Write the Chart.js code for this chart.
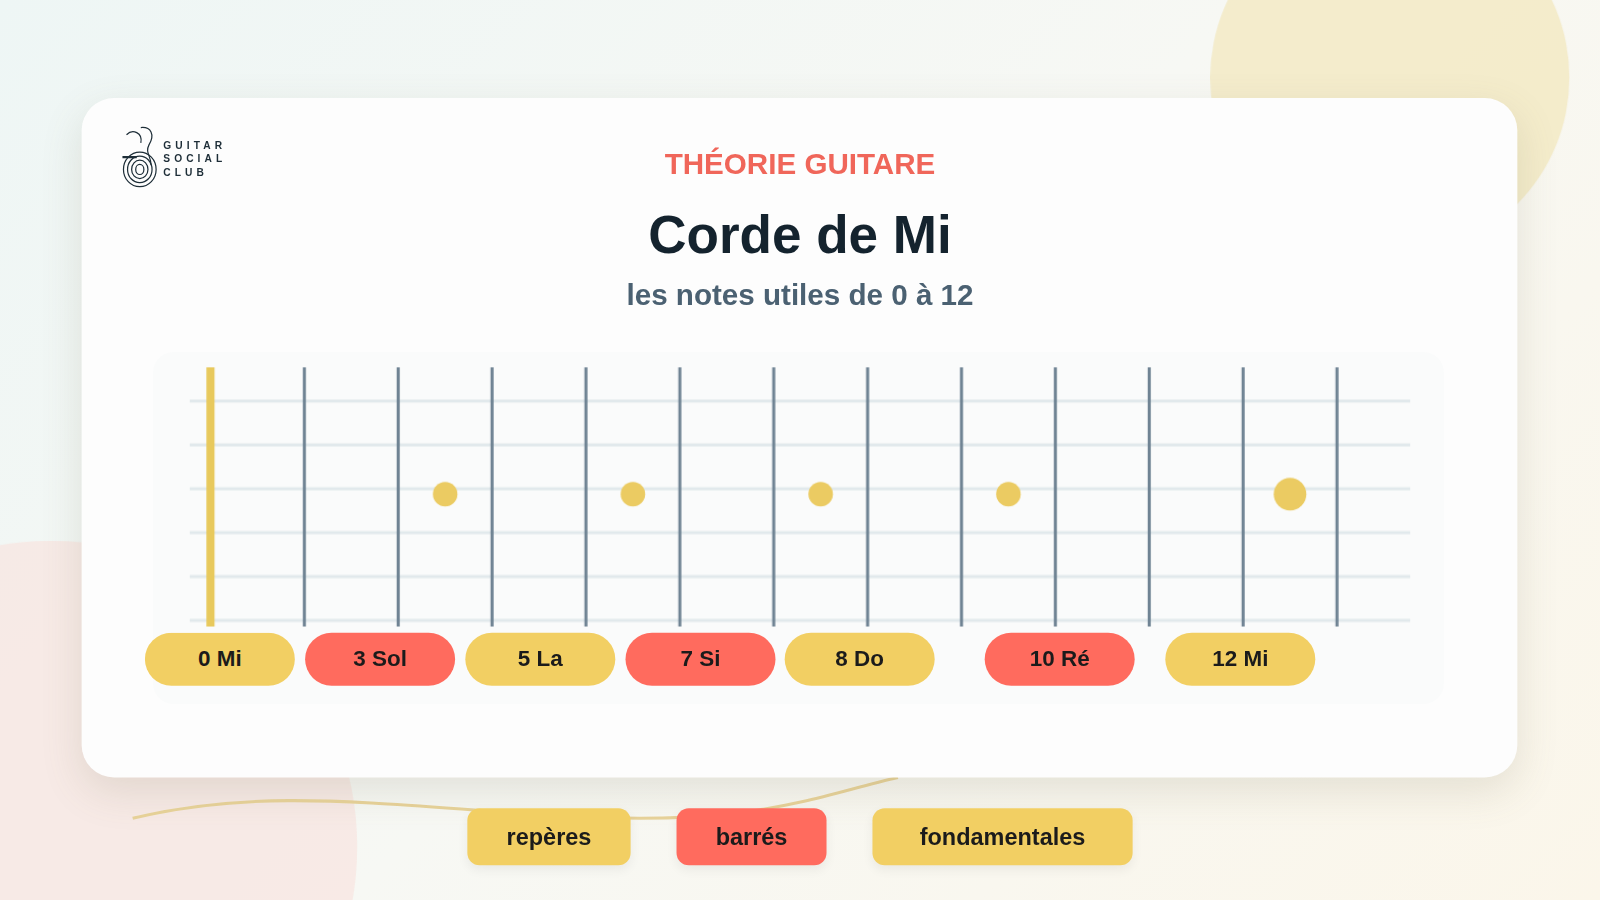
<!DOCTYPE html>
<html><head><meta charset="utf-8">
<script src="https://cdn.jsdelivr.net/npm/chart.js@4.4.0/dist/chart.umd.min.js"></script>
<style>
body{margin:0;width:1600px;height:900px;overflow:hidden;font-family:"Liberation Sans",Arial,sans-serif;
 background:linear-gradient(135deg,#eef6f5 0%,#f7f8f4 50%,#fbf6ea 100%)}
#page{position:absolute;left:0;top:0;width:1568px;height:882px;transform:scale(1.0204);transform-origin:0 0}
.blob{position:absolute;border-radius:50%}
.card{position:absolute;left:80px;top:96px;width:1407px;height:666px;background:#fdfdfd;border-radius:32px;box-shadow:0 14px 40px rgba(120,110,80,.16)}
.panel{position:absolute;left:150px;top:345px;width:1265px;height:345px;background:#fafbfb;border-radius:20px}
.t1{position:absolute;top:145px;left:0;width:1568px;text-align:center;color:#f0665a;font-weight:bold;font-size:29px}
.t2{position:absolute;top:200px;left:0;width:1568px;text-align:center;color:#14232e;font-weight:bold;font-size:52px}
.t3{position:absolute;top:273px;left:0;width:1568px;text-align:center;color:#4b6172;font-weight:bold;font-size:29px}
#wrap{position:absolute;left:186px;top:360px;width:1196px;height:254px}
.pill{position:absolute;height:52px;border-radius:26px;text-align:center;line-height:52px;font-weight:bold;font-size:22px;color:#1b1b1b}
.btn{position:absolute;top:792px;height:56px;border-radius:12px;text-align:center;line-height:56px;font-weight:bold;font-size:23px;color:#1b1b1b;box-shadow:0 4px 10px rgba(0,0,0,.06)}
.logo{position:absolute;left:160px;top:136px;font-size:10px;font-weight:bold;letter-spacing:4px;line-height:13px;color:#1e2e38}
</style></head><body>
<div id="page">
<div class="blob" style="left:1186px;top:-100px;width:352px;height:352px;background:#f3e9c2;opacity:.8"></div>
<div class="blob" style="left:-250px;top:530px;width:600px;height:600px;background:#f8e4df;opacity:.7"></div>
<svg style="position:absolute;left:0;top:740px" width="1000" height="80"><path d="M130 62 C 260 30, 380 50, 560 60 S 800 40, 880 22" stroke="#e8d39a" stroke-width="3" fill="none"/></svg>
<div class="card"></div>
<div class="panel"></div>
<svg style="position:absolute;left:118px;top:122px" width="40" height="64">
 <g fill="none" stroke="#1e2e38" stroke-width="1.2">
 <ellipse cx="19" cy="44" rx="16" ry="17"/><ellipse cx="19" cy="44" rx="12" ry="13"/><ellipse cx="19" cy="44" rx="8" ry="9"/><ellipse cx="19" cy="44" rx="4" ry="5"/>
 <path d="M20 3 C30 2 34 10 28 20 C24 28 30 30 30 40"/><path d="M6 10 C12 4 22 8 20 18"/>
 <line x1="2" y1="32" x2="16" y2="32" stroke-width="2"/></g></svg>
<div class="logo">GUITAR<br>SOCIAL<br>CLUB</div>
<div class="t1">THÉORIE GUITARE</div>
<div class="t2">Corde de Mi</div>
<div class="t3">les notes utiles de 0 à 12</div>
<div id="wrap"><canvas id="c"></canvas></div>
<div id="pills"></div>
<div class="btn" style="left:458px;width:160px;background:#f2cf63">repères</div>
<div class="btn" style="left:663px;width:147px;background:#ff6b5e">barrés</div>
<div class="btn" style="left:855px;width:255px;background:#f2cf63">fondamentales</div>
</div>
<script>
// fretboard data
var frets = [0,1,2,3,4,5,6,7,8,9,10,11,12];
var strings = [1,2,3,4,5,6];
var markerFrets = [3,5,7,9];
var octaveFret = [12];
var noteLabels = ['0 Mi','3 Sol','5 La','7 Si','8 Do','10 Ré','12 Mi'];
var noteKinds = ['y','r','y','r','y','r','y'];
var pillLeft = [142,299,456,613,769,965,1142];

var YEL = '#f2cf63', RED = '#ff6b5e';
noteLabels.forEach(function(t,i){
  var d = document.createElement('div');
  d.className = 'pill';
  d.style.left = pillLeft[i]+'px'; d.style.top = '620px'; d.style.width = '147px';
  d.style.background = noteKinds[i]=='y' ? YEL : RED;
  d.textContent = t;
  document.getElementById('pills').appendChild(d);
});

var datasets = [];
strings.forEach(function(s){
  datasets.push({type:'line',order:2,data:[{x:-0.22,y:s},{x:12.78,y:s}],borderColor:'#e1e9ec',borderWidth:3,pointRadius:0,clip:false});
});
frets.forEach(function(f){
  datasets.push({type:'line',order:1,data:[{x:f,y:0.23},{x:f,y:6.14}],
    borderColor: f==0 ? '#e8c95c' : '#6f8393', borderWidth: f==0 ? 8 : 3, pointRadius:0, clip:false});
});
datasets.push({type:'scatter',order:0,data:markerFrets.map(function(f){return {x:f-0.5,y:3.12};}),
  backgroundColor:'#ebcb62',pointRadius:12,pointBorderWidth:0,clip:false});
datasets.push({type:'scatter',order:0,data:octaveFret.map(function(f){return {x:f-0.5,y:3.12};}),
  backgroundColor:'#ebcb62',pointRadius:16,pointBorderWidth:0,clip:false});

new Chart(document.getElementById('c'), {
  data: {datasets: datasets},
  options: {
    responsive:true, maintainAspectRatio:false, animation:false,
    layout:{padding:0, autoPadding:false},
    plugins:{legend:{display:false},tooltip:{enabled:false}},
    scales:{
      x:{type:'linear',min:-0.22,max:12.78,display:false},
      y:{type:'linear',min:0.23,max:6.14,reverse:true,display:false}
    }
  }
});
</script>
</body></html>
